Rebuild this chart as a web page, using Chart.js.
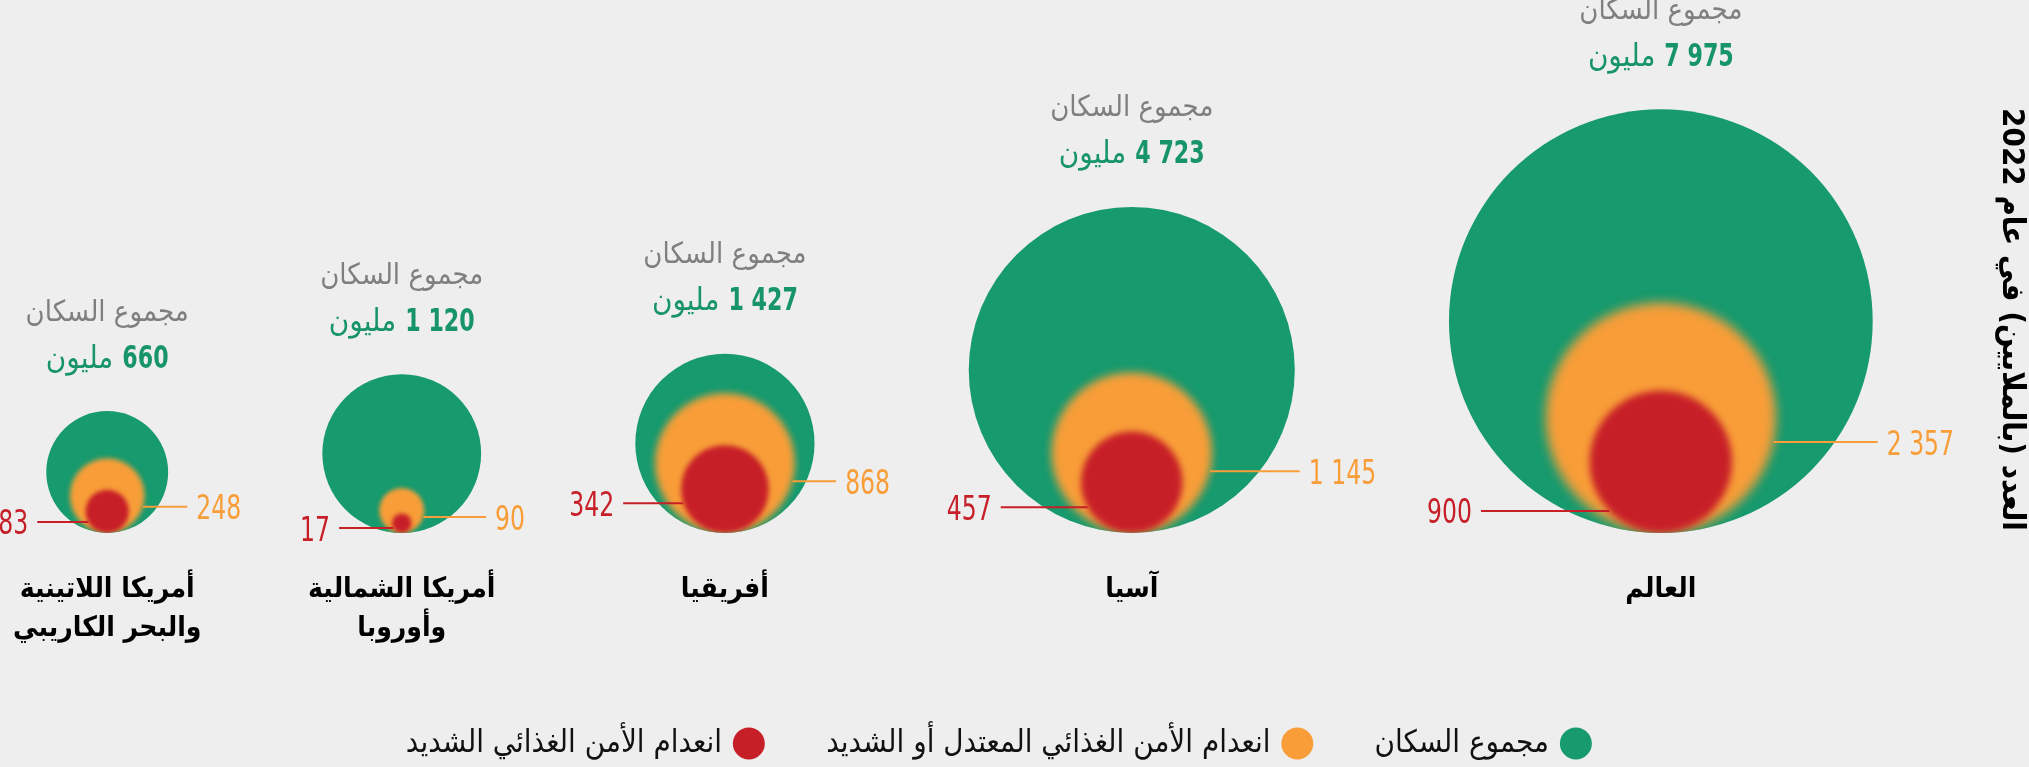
<!DOCTYPE html>
<html lang="ar">
<head>
<meta charset="utf-8">
<script src="https://cdn.jsdelivr.net/npm/chart.js@4"></script>
<style>
html,body{margin:0;padding:0;background:#EEEEEE;}
#wrap{width:2029px;height:767px;position:relative;}
canvas{direction:rtl;display:block;}
</style>
</head>
<body>
<div id="wrap"><canvas id="c" width="2029" height="767"></canvas></div>
<script>
// ---------- DATA ----------
const categories = [["أمريكا اللاتينية", "والبحر الكاريبي"], ["أمريكا الشمالية", "وأوروبا"], "أفريقيا", "آسيا", "العالم"];
const totalPopulation = [660, 1120, 1427, 4723, 7975];
const moderateOrSevere = [248, 90, 868, 1145, 2357];
const severe = [83, 17, 342, 457, 900];
const seriesLabels = ["مجموع السكان", "انعدام الأمن الغذائي المعتدل أو الشديد", "انعدام الأمن الغذائي الشديد"];
const axisTitle = "العدد (بالملايين) في عام 2022";
const totalCaption = "مجموع السكان";
const unitWord = "مليون";

// ---------- STYLE ----------
const GREEN = '#169A6E', ORANGE = '#F89D38', RED = '#C71F28';
const GRAY_TEXT = '#7F7F7F', GREEN_TEXT = '#17946A';
const orangeLeaderFrac = [0.30, 0.29, 0.26, 0.23, 0.21];
const redLeaderFrac = [0.49, 0.49, 0.32, 0.49, 0.69];

function hasFont(name) {
  const c = document.createElement('canvas').getContext('2d');
  const t = 'mmmmmmmmmmlli 0123456789 WwQq';
  let diff = false;
  for (const base of ['monospace', 'serif']) {
    c.font = '40px ' + base; const a = c.measureText(t).width;
    c.font = '40px "' + name + '", ' + base; const b = c.measureText(t).width;
    if (Math.abs(a - b) > 0.01) diff = true;
  }
  return diff;
}
const NUM_FONT = ['Liberation Sans Narrow', 'DejaVu Sans Condensed', 'Roboto'].find(hasFont) || 'sans-serif';
const AR_FONT = ['DejaVu Sans Condensed', 'DejaVu Sans'].find(hasFont) || 'sans-serif';
const NUM_SQUEEZE = NUM_FONT === 'Liberation Sans Narrow' ? 1 : 0.77;

// ---------- GEOMETRY FROM DATA ----------
const Y_MAX = 180;               // axis in sqrt(millions): circle area proportional to value
const GAP = 65;                  // gap between neighbouring circles, same units
const rootTotal = totalPopulation.map(Math.sqrt);
const centers = [];
rootTotal.forEach((r, i) => centers.push(i === 0 ? 0 : centers[i - 1] + rootTotal[i - 1] + GAP + r));
const X_MIN = -(rootTotal[0] + 0.3 * GAP);

const pts = arr => arr.map((v, i) => ({x: centers[i], y: Math.sqrt(v), v}));
const pxPerUnit = chart => {
  const y = chart.scales && chart.scales.y;
  if (!y) return 0;
  return y.getPixelForValue(0) - y.getPixelForValue(1);
};
const fmt = n => String(n).replace(/\B(?=(\d{3})+(?!\d))/g, ' ');

function squeezedText(ctx, txt, x, y, align, sx) {
  ctx.save();
  ctx.direction = 'ltr';
  ctx.translate(x, y); ctx.scale(sx, 1);
  ctx.textAlign = align; ctx.textBaseline = 'alphabetic';
  ctx.fillText(txt, 0, 0);
  ctx.restore();
}

const softPlugin = {
  id: 'soft',
  afterLayout(chart) {
    const x = chart.scales.x, k = pxPerUnit(chart);
    if (!k) return;
    x.min = X_MIN; x.max = X_MIN + (x.right - x.left) / k;
    x.configure();
  },
  beforeDatasetDraw(chart, args) {
    if (args.index === 0) return;
    const ctx = chart.ctx, green = chart.getDatasetMeta(0).data;
    args.meta.data.forEach((el, j) => {
      const g = green[j];
      ctx.save();
      ctx.beginPath(); ctx.arc(g.x, g.y, g.options.radius, 0, Math.PI * 2); ctx.clip();
      ctx.filter = 'blur(' + (1.6 + el.options.radius * 0.03).toFixed(2) + 'px)';
      el.draw(ctx);
      ctx.restore();
    });
    return false;
  },
  afterDatasetsDraw(chart) {
    if (!chart.$sized) return;
    const ctx = chart.ctx;
    const G = chart.getDatasetMeta(0).data, O = chart.getDatasetMeta(1).data, R = chart.getDatasetMeta(2).data;
    G.forEach((g, i) => {
      const gr = g.options.radius, top = g.y - gr;
      ctx.save();
      // caption above circle
      ctx.direction = 'rtl'; ctx.textAlign = 'center'; ctx.textBaseline = 'middle';
      ctx.fillStyle = GRAY_TEXT; ctx.font = '29px "' + AR_FONT + '"';
      ctx.fillText(totalCaption, g.x, top - 98);
      // value line: bold number + unit word
      const numTxt = fmt(totalPopulation[i]);
      const numFont = 'bold 32px "' + NUM_FONT + '"', wordFont = '31px "' + AR_FONT + '"';
      ctx.font = numFont; const wn = ctx.measureText(numTxt).width * NUM_SQUEEZE;
      ctx.font = wordFont; const ww = ctx.measureText(unitWord).width;
      const gapW = 9, left = g.x - (wn + gapW + ww) / 2, by = top - 55 + 11.5;
      ctx.fillStyle = GREEN_TEXT; ctx.textBaseline = 'alphabetic'; ctx.textAlign = 'left';
      ctx.fillText(unitWord, left, by);
      ctx.font = numFont;
      squeezedText(ctx, numTxt, left + ww + gapW, by, 'left', NUM_SQUEEZE);

      // orange leader (right side)
      const o = O[i], orr = o.options.radius;
      let ly = o.y + orangeLeaderFrac[i] * orr;
      let sx = o.x + Math.sqrt(Math.max(orr * orr - (ly - o.y) ** 2, 0));
      let edge = g.x + Math.sqrt(Math.max(gr * gr - (ly - g.y) ** 2, 0));
      let ex = Math.max(edge + 30, g.x + gr + 5);
      ctx.strokeStyle = ORANGE; ctx.lineWidth = 2;
      ctx.beginPath(); ctx.moveTo(sx, ly); ctx.lineTo(ex, ly); ctx.stroke();
      ctx.fillStyle = ORANGE; ctx.font = '34px "' + NUM_FONT + '"';
      squeezedText(ctx, fmt(moderateOrSevere[i]), ex + 9, ly + 12.5, 'left', NUM_SQUEEZE);

      // red leader (left side)
      const r = R[i], rr = r.options.radius;
      ly = r.y + redLeaderFrac[i] * rr;
      sx = r.x - Math.sqrt(Math.max(rr * rr - (ly - r.y) ** 2, 0));
      edge = g.x - Math.sqrt(Math.max(gr * gr - (ly - g.y) ** 2, 0));
      ex = Math.min(edge - 35, g.x - gr + 32);
      ctx.strokeStyle = RED;
      ctx.beginPath(); ctx.moveTo(sx, ly); ctx.lineTo(ex, ly); ctx.stroke();
      ctx.fillStyle = RED;
      squeezedText(ctx, fmt(severe[i]), ex - 9, ly + 12.5, 'right', NUM_SQUEEZE);
      ctx.restore();
    });
  }
};

const chart = new Chart(document.getElementById('c'), {
  type: 'bubble',
  data: {
    datasets: [
      {label: seriesLabels[0], data: pts(totalPopulation), backgroundColor: GREEN, order: 3},
      {label: seriesLabels[1], data: pts(moderateOrSevere), backgroundColor: ORANGE, order: 2},
      {label: seriesLabels[2], data: pts(severe), backgroundColor: RED, order: 1}
    ]
  },
  options: {
    responsive: false,
    animation: false,
    events: [],
    layout: {autoPadding: false, padding: {top: 106, left: 0, right: 0, bottom: -2}},
    elements: {point: {borderWidth: 0, hoverRadius: 0, hoverBorderWidth: 0}},
    datasets: {bubble: {clip: false}},
    scales: {
      x: {
        type: 'linear', min: X_MIN, max: X_MIN + 1991 / (427 / Y_MAX),
        grid: {display: false, drawTicks: false}, border: {display: false},
        afterBuildTicks: s => { s.ticks = centers.map(v => ({value: v})); },
        afterFit: s => { s.height = 129; s.paddingLeft = 0; s.paddingRight = 0; },
        ticks: {
          autoSkip: false, maxRotation: 0, minRotation: 0, padding: 37, color: '#000',
          font: {family: AR_FONT, size: 28, weight: 'bold', lineHeight: 1.4},
          callback: (v, i) => categories[i]
        }
      },
      y: {
        type: 'linear', position: 'right', min: 0, max: Y_MAX,
        grid: {display: false, drawTicks: false}, border: {display: false},
        ticks: {display: false},
        title: {display: true, text: axisTitle, color: '#000', padding: {top: 1, bottom: 1},
          font: {family: AR_FONT, size: 31, weight: 'bold', lineHeight: 1.1}}
      }
    },
    plugins: {
      tooltip: {enabled: false},
      legend: {
        position: 'bottom', fullSize: false, rtl: true, textDirection: 'rtl',
        labels: {usePointStyle: true, pointStyle: 'circle', boxWidth: 22.6, boxHeight: 22.6, padding: 66,
          color: '#111', font: {family: AR_FONT, size: 31},
          sort: (a, b) => a.datasetIndex - b.datasetIndex}
      }
    }
  },
  plugins: [softPlugin]
});

// second pass: bubble radii (px) from the laid-out value axis, so area ∝ value
const k = pxPerUnit(chart);
chart.data.datasets.forEach(ds => ds.data.forEach(p => { p.r = p.y * k; }));
chart.$sized = true;
chart.update();
</script>
</body>
</html>
